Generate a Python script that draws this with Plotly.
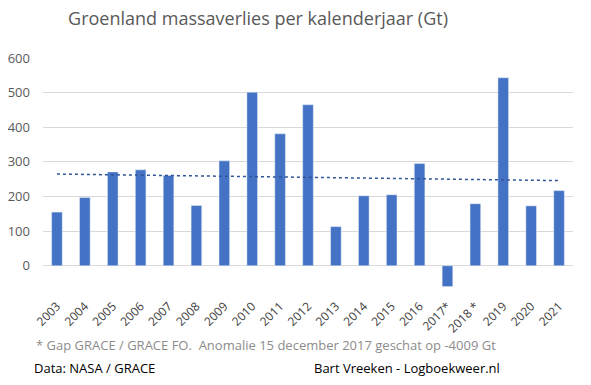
import numpy as np
import plotly.graph_objects as go

years = ["2003", "2004", "2005", "2006", "2007", "2008", "2009", "2010", "2011", "2012",
         "2013", "2014", "2015", "2016", "2017*", "2018 *", "2019", "2020", "2021"]
values = [155, 197, 271, 277, 261, 174, 303, 501, 381, 465,
          113, 202, 205, 295, -60, 179, 543, 173, 217]
yticks = [0, 100, 200, 300, 400, 500, 600]

x_idx = np.arange(len(years))
slope, intercept = np.polyfit(x_idx, values, 1)
trend = slope * x_idx + intercept

FONT = "Open Sans"
fig = go.Figure()
fig.add_trace(go.Bar(x=years, y=values, marker_color="#4472C4", width=0.38, hoverinfo="skip"))
fig.add_trace(go.Scatter(x=years, y=trend, mode="lines",
                         line=dict(color="#2F5597", width=1.5, dash="dot"), hoverinfo="skip"))

fig.update_layout(
    width=591, height=385,
    margin=dict(l=43, r=18, t=58, b=95, autoexpand=False),
    paper_bgcolor="white", plot_bgcolor="white",
    showlegend=False,
    font=dict(family=FONT, color="#595959"),
    title=dict(text="Groenland massaverlies per kalenderjaar (Gt)", xref="container",
               x=258 / 591, xanchor="center", yref="container",
               y=1 - 19 / 385, yanchor="middle", automargin=False,
               font=dict(size=18, color="#595959", family=FONT)),
    xaxis=dict(type="category", tickangle=-45, tickfont=dict(size=12, color="#404040"),
               showgrid=False, showline=False, ticks="", automargin=False,
               ticklabelstandoff=6),
    yaxis=dict(range=[-70, 600], tickvals=yticks, showgrid=True, gridcolor="#D9D9D9",
               zeroline=True, zerolinecolor="#D9D9D9", zerolinewidth=1,
               tickfont=dict(size=13, color="#595959"), ticks="", automargin=False,
               ticklabelstandoff=12),
)

fig.add_annotation(text="* Gap GRACE / GRACE FO.  Anomalie 15 december 2017 geschat op -4009 Gt",
                   xref="paper", yref="paper", x=0.421, y=-0.237, xanchor="center", yanchor="middle",
                   showarrow=False, font=dict(size=13, color="#8C8C8C", family=FONT))
fig.add_annotation(text="Data: NASA / GRACE", xref="paper", yref="paper", x=-0.0208, y=-0.336,
                   xanchor="left", yanchor="middle", showarrow=False,
                   font=dict(size=13, color="#000000", family=FONT))
fig.add_annotation(text="Bart Vreeken - Logboekweer.nl", xref="paper", yref="paper", x=0.866, y=-0.336,
                   xanchor="right", yanchor="middle", showarrow=False,
                   font=dict(size=13, color="#000000", family=FONT))

fig.write_html("out.html", config={"displayModeBar": False},
               post_script="document.body.style.margin='0';")
